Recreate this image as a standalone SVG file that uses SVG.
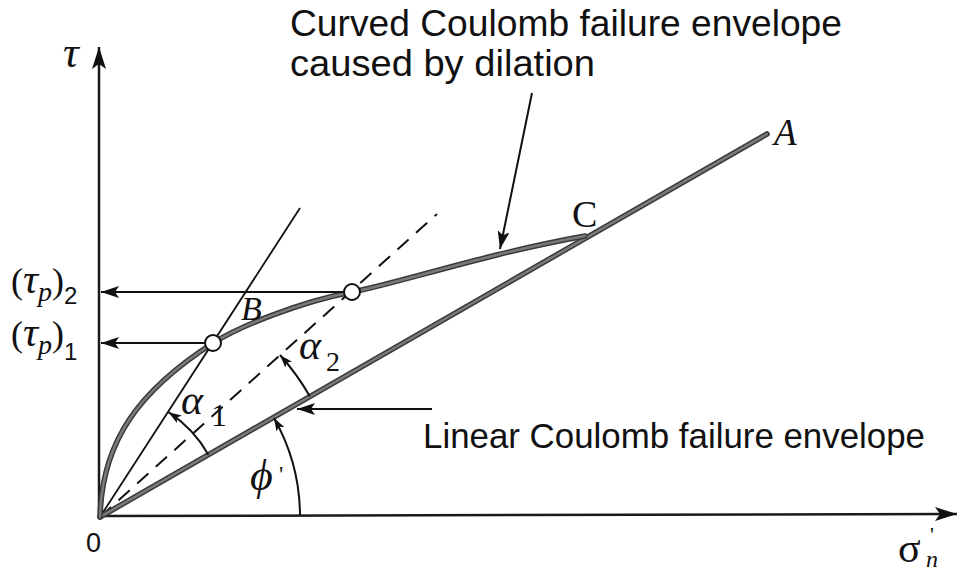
<svg xmlns="http://www.w3.org/2000/svg" width="964" height="571" viewBox="0 0 964 571">
<style>
.ax{stroke:#1a1a1a;stroke-width:2.5;fill:none}
.thin{stroke:#111;stroke-width:1.8;fill:none}
.dash{stroke:#111;stroke-width:2;fill:none;stroke-dasharray:15 10}
.envo{stroke:#3a3a3a;stroke-width:5.5;fill:none;stroke-linecap:round}
.envi{stroke:#7a7a7a;stroke-width:2.5;fill:none;stroke-linecap:round}
.ptr{stroke:#111;stroke-width:2;fill:none}
.sans{font-family:"Liberation Sans",Arial,sans-serif;fill:#111}
.ser{font-family:"Liberation Serif","Times New Roman",serif;fill:#111}
.it{font-style:italic}
.pt{fill:#fff;stroke:#111;stroke-width:2}
</style>
<defs>
<marker id="big" viewBox="0 0 22 14" refX="22" refY="7" markerWidth="22" markerHeight="14" markerUnits="userSpaceOnUse" orient="auto"><path d="M0,0 L22,7 L0,14 L5,7 z" fill="#111"/></marker>
<marker id="mid" viewBox="0 0 18 12" refX="18" refY="6" markerWidth="18" markerHeight="12" markerUnits="userSpaceOnUse" orient="auto"><path d="M0,0 L18,6 L0,12 L4,6 z" fill="#111"/></marker>
<marker id="sm" viewBox="0 0 13 9" refX="13" refY="4.5" markerWidth="13" markerHeight="9" markerUnits="userSpaceOnUse" orient="auto"><path d="M0,0 L13,4.5 L0,9 L3,4.5 z" fill="#111"/></marker>
</defs>

<g id="axes">
<line class="ax" x1="99" y1="517" x2="99" y2="47" marker-end="url(#big)"/>
<line class="ax" x1="99" y1="516" x2="957" y2="514" marker-end="url(#big)"/>
</g>

<g id="thin-line"><line class="thin" x1="100" y1="517" x2="300" y2="208"/></g>
<g id="dashed-line"><line class="dash" x1="100" y1="517" x2="437" y2="214"/></g>

<g id="linear-envelope">
<line class="envo" x1="100" y1="517" x2="767" y2="134"/>
<line class="envi" x1="100" y1="517" x2="767" y2="134"/>
</g>
<g id="curved-envelope">
<path class="envo" d="M100,517 C102,440 140,390 213,343 C240,326 300,302 352,292 C400,283 480,255 585,236"/>
<path class="envi" d="M100,517 C102,440 140,390 213,343 C240,326 300,302 352,292 C400,283 480,255 585,236"/>
</g>

<g id="connectors">
<line class="ptr" x1="344" y1="292" x2="101" y2="292" marker-end="url(#mid)"/>
<line class="ptr" x1="205" y1="343" x2="101" y2="343" marker-end="url(#mid)"/>
<line class="ptr" x1="532" y1="93" x2="500" y2="249" marker-end="url(#mid)"/>
<line class="ptr" x1="432" y1="409" x2="297" y2="409" marker-end="url(#mid)"/>
<path class="ptr" d="M208.4,454.7 A125,125 0 0 0 168.5,412.2" marker-end="url(#sm)" stroke-width="1.6"/>
<path class="ptr" d="M309.8,396.3 A242,242 0 0 0 280,355" marker-end="url(#sm)" stroke-width="1.6"/>
<path class="ptr" d="M300,515 A200,200 0 0 0 274,418" marker-end="url(#sm)" stroke-width="1.6"/>
</g>

<g id="point-1"><circle class="pt" cx="213" cy="343" r="8"/></g>
<g id="point-2"><circle class="pt" cx="352" cy="292" r="8"/></g>

<g id="labels">
<text class="ser it" x="63" y="67" font-size="44">τ</text>
<text class="ser" x="11" y="293" font-size="36">(<tspan class="it" font-size="42">τ</tspan><tspan class="it" font-size="28" dy="8">p</tspan><tspan dy="-8">)</tspan><tspan class="sans" font-size="24" dy="11">2</tspan></text>
<text class="ser" x="11" y="346" font-size="36">(<tspan class="it" font-size="42">τ</tspan><tspan class="it" font-size="28" dy="8">p</tspan><tspan dy="-8">)</tspan><tspan class="sans" font-size="24" dy="14">1</tspan></text>
<text class="ser it" x="241" y="320" font-size="34">B</text>
<text class="ser" x="572" y="227" font-size="38">C</text>
<text class="ser it" x="774" y="145" font-size="37">A</text>
<text class="ser it" x="181" y="414" font-size="42">α</text>
<text class="ser" x="211" y="426" font-size="32">1</text>
<text class="ser it" x="299" y="359" font-size="42">α</text>
<text class="ser" x="326" y="371" font-size="28">2</text>
<text class="ser it" x="250" y="490" font-size="44">ϕ</text>
<text class="ser" x="279" y="482" font-size="24">'</text>
<text class="sans" x="86" y="552" font-size="27">0</text>
<text class="ser" x="898" y="562" font-size="42">σ</text>
<text class="ser" x="930" y="542" font-size="22">'</text>
<text class="ser it" x="926" y="567" font-size="24">n</text>
<text class="sans" x="290" y="36" font-size="36" textLength="552" lengthAdjust="spacingAndGlyphs">Curved Coulomb failure envelope</text>
<text class="sans" x="290" y="76" font-size="36" textLength="305" lengthAdjust="spacingAndGlyphs">caused by dilation</text>
<text class="sans" x="423" y="448" font-size="35" textLength="502" lengthAdjust="spacingAndGlyphs">Linear Coulomb failure envelope</text>
</g>
</svg>
